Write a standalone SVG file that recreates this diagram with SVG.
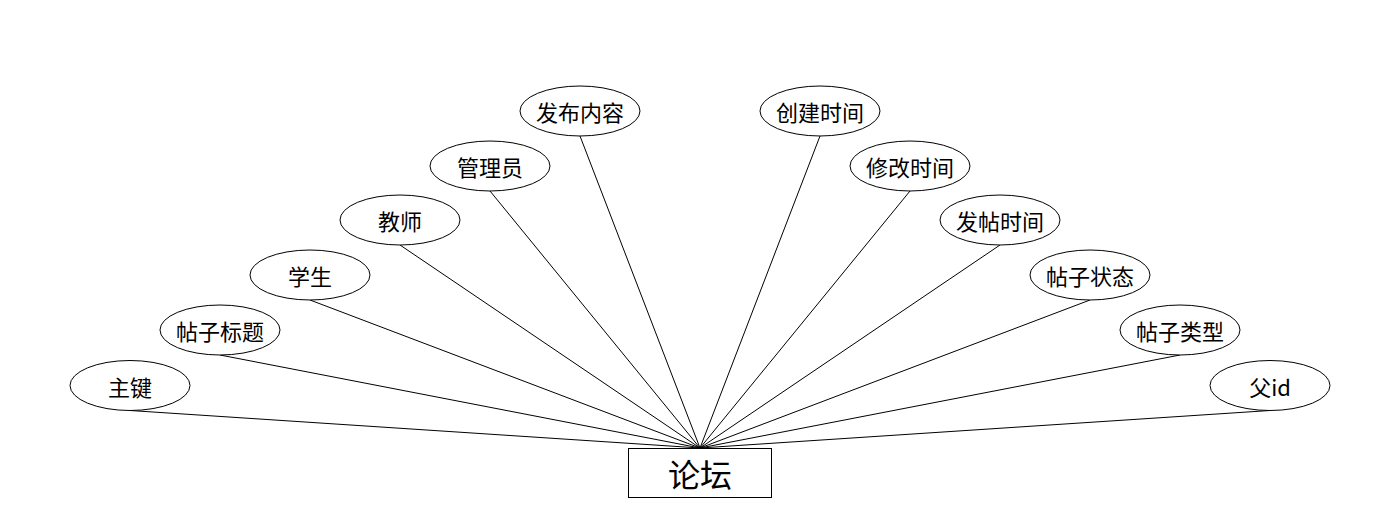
<svg xmlns="http://www.w3.org/2000/svg" width="1400" height="528" viewBox="0 0 1400 528">
<style>
.e{fill:#fff;stroke:#000;stroke-width:1}
.t{font-family:"Noto Sans CJK SC","Liberation Sans",sans-serif;font-size:22px;fill:#000;text-anchor:middle;dominant-baseline:central}
.c line{stroke:#000;stroke-width:1}
</style>
<rect width="1400" height="528" fill="#fff"/>
<g class="c" id="connectors">
<line x1="130" y1="410.5" x2="700" y2="448"/>
<line x1="220" y1="355" x2="700" y2="448"/>
<line x1="310" y1="300" x2="700" y2="448"/>
<line x1="400" y1="245" x2="700" y2="448"/>
<line x1="490" y1="191" x2="700" y2="448"/>
<line x1="580" y1="136" x2="700" y2="448"/>
<line x1="820" y1="136" x2="700" y2="448"/>
<line x1="910" y1="191" x2="700" y2="448"/>
<line x1="1000" y1="245" x2="700" y2="448"/>
<line x1="1090" y1="300" x2="700" y2="448"/>
<line x1="1180" y1="355" x2="700" y2="448"/>
<line x1="1270" y1="410.5" x2="700" y2="448"/>
</g>
<g id="n1"><ellipse class="e" cx="130" cy="385.5" rx="60" ry="25"/><text class="t" x="130" y="385.5">主键</text></g>
<g id="n2"><ellipse class="e" cx="220" cy="330" rx="60" ry="25"/><text class="t" x="220" y="330">帖子标题</text></g>
<g id="n3"><ellipse class="e" cx="310" cy="275" rx="60" ry="25"/><text class="t" x="310" y="275">学生</text></g>
<g id="n4"><ellipse class="e" cx="400" cy="220" rx="60" ry="25"/><text class="t" x="400" y="220">教师</text></g>
<g id="n5"><ellipse class="e" cx="490" cy="166" rx="60" ry="25"/><text class="t" x="490" y="166">管理员</text></g>
<g id="n6"><ellipse class="e" cx="580" cy="111" rx="60" ry="25"/><text class="t" x="580" y="111">发布内容</text></g>
<g id="n7"><ellipse class="e" cx="820" cy="111" rx="60" ry="25"/><text class="t" x="820" y="111">创建时间</text></g>
<g id="n8"><ellipse class="e" cx="910" cy="166" rx="60" ry="25"/><text class="t" x="910" y="166">修改时间</text></g>
<g id="n9"><ellipse class="e" cx="1000" cy="220" rx="60" ry="25"/><text class="t" x="1000" y="220">发帖时间</text></g>
<g id="n10"><ellipse class="e" cx="1090" cy="275" rx="60" ry="25"/><text class="t" x="1090" y="275">帖子状态</text></g>
<g id="n11"><ellipse class="e" cx="1180" cy="330" rx="60" ry="25"/><text class="t" x="1180" y="330">帖子类型</text></g>
<g id="n12"><ellipse class="e" cx="1270" cy="385.5" rx="60" ry="25"/><text class="t" x="1270" y="385.5">父id</text></g>
<g id="main"><rect x="628.5" y="448.5" width="143" height="49" fill="#fff" stroke="#000"/><text class="t" x="700" y="473" style="font-size:32px">论坛</text></g>
</svg>
